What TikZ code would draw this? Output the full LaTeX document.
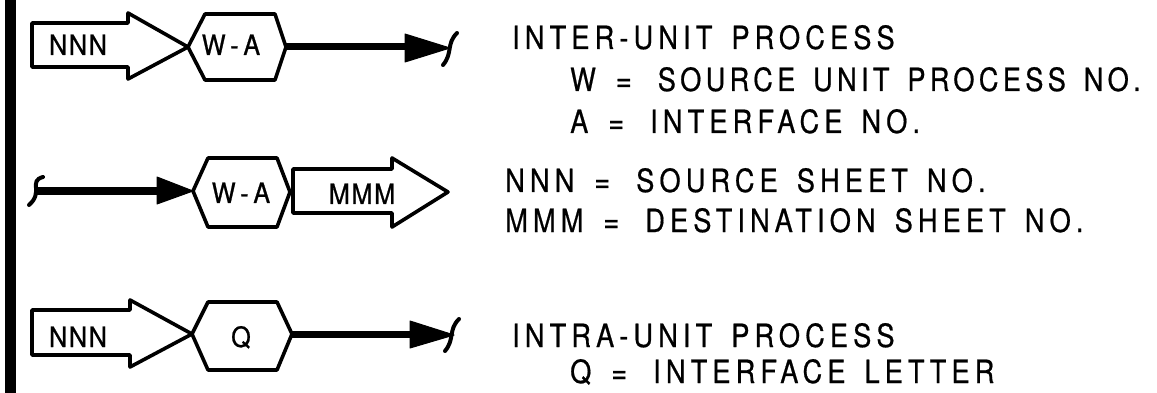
\documentclass[tikz,border=0pt]{standalone}
\usepackage{fontspec}
\setmainfont{TeX Gyre Heros}
\newfontfamily\legendfont[LetterSpace=16,WordSpace=1.5,FakeStretch=0.85,FakeBold=0.6]{TeX Gyre Heros}
\newfontfamily\legendtight[LetterSpace=13.5,WordSpace=1.5,FakeStretch=0.85,FakeBold=0.6]{TeX Gyre Heros}
\newfontfamily\innerfont[LetterSpace=6,FakeStretch=0.9,FakeBold=0.8]{TeX Gyre Heros}
\newcommand{\eqgap}{\hspace{20pt}=\hspace{26pt}}
\begin{document}
\begin{tikzpicture}[x=1pt,y=-1pt,
  outline/.style={draw=black,line width=3.6pt,line join=round,fill=white},
  conn/.style={draw=black,line width=7pt},
  tip/.style={fill=black,draw=black,line width=1pt,line join=round},
  brk/.style={draw=black,line width=4pt,line cap=round},
  inner/.style={font=\innerfont\fontsize{28}{30}\selectfont,inner sep=0pt,anchor=base},
  legend/.style={font=\legendfont\fontsize{32}{34}\selectfont,inner sep=0pt,anchor=base west},
  legendt/.style={legend,font=\legendtight\fontsize{32}{34}\selectfont}]
\useasboundingbox (0,0) rectangle (1157,393);
% left bar
\fill[black] (5,0) rectangle (16,393);

% ---------- Row 1 ----------
\draw[outline] (32,23) -- (128,23) -- (128,13) -- (188,47) -- (128,79) -- (128,67) -- (32,67) -- cycle;
\coordinate (h1w) at (188,47);
\coordinate (h1e) at (286,47);
\draw[outline] (h1w) -- (205,14) -- (275,14) -- (h1e) -- (275,80) -- (205,80) -- cycle;
\node[inner] (nnn1) at (78,55) {NNN};
\node[inner] (wa1) at (231,55) {W\,-\,A};
\coordinate (a1) at (407,47);
\coordinate (t1) at (450,48);
\draw[conn] (h1e) -- (a1);
\fill[tip] (405,34) -- (t1) -- (405,62) -- cycle;
\coordinate (k1a) at (457,33);
\coordinate (k1b) at (443,65);
\draw[brk] (k1a) .. controls (446,44) and (453,53) .. (k1b);

% ---------- Row 2 ----------
\coordinate (k2a) at (43,177);
\coordinate (k2b) at (29,205);
\draw[brk] (k2a) .. controls (28,181) and (44,192) .. (k2b);
\coordinate (s2) at (37,191);
\coordinate (a2) at (160,191);
\draw[conn] (s2) -- (a2);
\coordinate (h2w) at (193,191);
\coordinate (h2e) at (290,192);
\fill[tip] (157,177) -- (h2w) -- (157,204) -- cycle;
\draw[outline] (h2w) -- (208,158) -- (277,158) -- (h2e) -- (277,227) -- (208,227) -- cycle;
\draw[outline] (293,169) -- (392,169) -- (392,158) -- (448,192) -- (392,227) -- (392,213) -- (293,213) -- cycle;
\node[inner] (wa2) at (241,203) {W\,-\,A};
\node[inner] (mmm) at (362,204) {MMM};

% ---------- Row 3 ----------
\draw[outline] (32,310) -- (130,310) -- (130,300) -- (192,334) -- (130,367) -- (130,355) -- (32,355) -- cycle;
\coordinate (h3w) at (192,334);
\coordinate (h3e) at (292,334);
\draw[outline] (h3w) -- (208,302) -- (277,302) -- (h3e) -- (277,370) -- (208,370) -- cycle;
\node[inner] (nnn3) at (78,347) {NNN};
\node[inner] (q) at (241,347) {Q};
\coordinate (a3) at (412,334);
\coordinate (t3) at (454,335);
\draw[conn] (h3e) -- (a3);
\fill[tip] (410,321) -- (t3) -- (410,348) -- cycle;
\coordinate (k3a) at (459,319);
\coordinate (k3b) at (445,351);
\draw[brk] (k3a) .. controls (448,330) and (455,339) .. (k3b);

% ---------- Legend ----------
\node[legend] (l1) at (512,49) {INTER-UNIT PROCESS};
\node[legendt] (l2) at (570,91) {W\eqgap SOURCE UNIT PROCESS NO.};
\node[legend] (l3) at (570,133) {A\eqgap INTERFACE NO.};
\node[legend] (l4) at (505,192) {NNN\eqgap SOURCE SHEET NO.};
\node[legend] (l5) at (505,232) {MMM\eqgap DESTINATION SHEET NO.};
\node[legend] (l6) at (512,347) {INTRA-UNIT PROCESS};
\node[legend] (l7) at (570,383) {Q\eqgap INTERFACE LETTER};
\end{tikzpicture}
\end{document}
